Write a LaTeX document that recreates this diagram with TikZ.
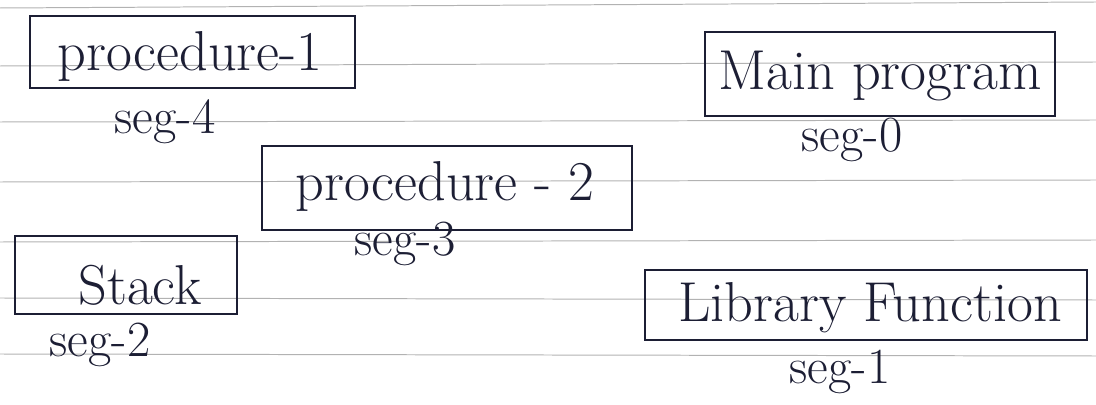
\documentclass[tikz,border=0pt]{standalone}
\usetikzlibrary{fit}
\definecolor{ink}{RGB}{28,30,52}
\begin{document}
\begin{tikzpicture}[x=0.025cm,y=-0.025cm,
  rule/.style={gray!60,line width=0.7pt},
  segbox/.style={draw=ink,line width=1.4pt,inner sep=0pt},
  boxtext/.style={text=ink,font=\fontsize{40}{44}\selectfont,inner sep=0pt},
  seglabel/.style={text=ink,font=\fontsize{36}{40}\selectfont,inner sep=0pt}]
\useasboundingbox (0,0) rectangle (1096,405);
% ruled paper lines
\draw[rule] (0,8) -- (1096,2);
\draw[rule] (0,66) -- (1096,62);
\draw[rule] (0,122) -- (1096,120);
\draw[rule] (0,182) -- (1096,180);
\draw[rule] (0,242) -- (1096,240);
\draw[rule] (0,298) -- (1096,300);
\draw[rule] (0,354) -- (1096,356);
% boxes
\node[segbox,fit={(30,16) (355,88)}] (p1) {};
\node[boxtext] (p1t) at (190,56) {procedure-1};
\node[seglabel] (s4) at (165,122) {seg-4};

\node[segbox,fit={(705,32) (1055,116)}] (mp) {};
\node[boxtext] (mpt) at (880,76) {Main program};
\node[seglabel] (s0) at (852,140) {seg-0};

\node[segbox,fit={(262,146) (632,230)}] (p2) {};
\node[boxtext] (p2t) at (445,186) {procedure - 2};
\node[seglabel] (s3) at (405,244) {seg-3};

\node[segbox,fit={(15,236) (237,314)}] (st) {};
\node[boxtext] (stt) at (140,285) {Stack};
\node[seglabel] (s2) at (100,345) {seg-2};

\node[segbox,fit={(645,270) (1087,340)}] (lf) {};
\node[boxtext] (lft) at (870,308) {Library Function};
\node[seglabel] (s1) at (840,372) {seg-1};
\end{tikzpicture}
\end{document}
